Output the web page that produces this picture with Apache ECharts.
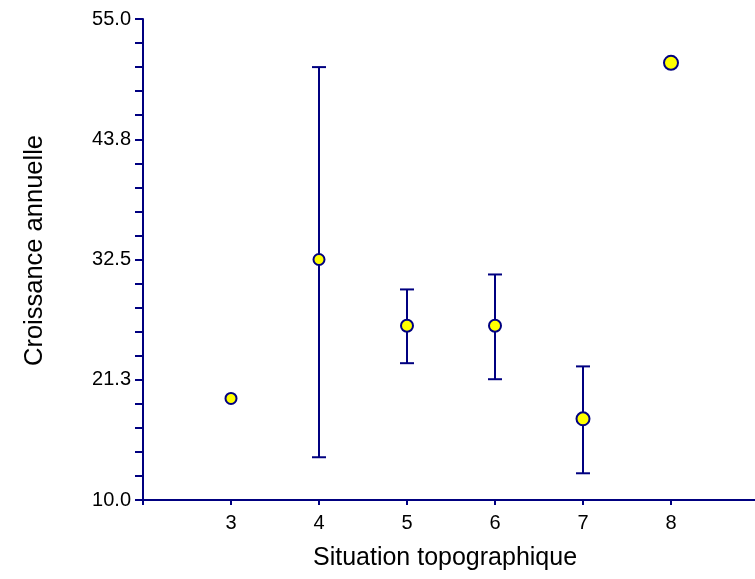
<!DOCTYPE html>
<html>
<head>
<meta charset="utf-8">
<script src="https://cdn.jsdelivr.net/npm/echarts@6/dist/echarts.min.js"></script>
<style>html,body{margin:0;padding:0;background:#fff}#c{width:755px;height:579px}</style>
</head>
<body>
<div id="c"></div>
<script>
var categories = [3, 4, 5, 6, 7, 8];
var means = [19.5, 32.5, 26.3, 26.3, 17.6, 50.9];
var lowerBars = [19.5, 14.0, 22.8, 21.3, 12.5, 50.9];
var upperBars = [19.5, 50.5, 29.7, 31.1, 22.5, 50.9];
var markerSizes = [11, 11, 12, 12, 13, 14];
var yTickLabels = ['10.0', '21.3', '32.5', '43.8', '55.0'];
var xTickLabels = ['3', '4', '5', '6', '7', '8'];

var navy = '#000080';
var chart = echarts.init(document.getElementById('c'));
var errData = categories.map(function (c, i) { return [c, lowerBars[i], upperBars[i]]; });
var ptData = categories.map(function (c, i) { return [c, means[i]]; });

chart.setOption({
  animation: false,
  grid: { left: 143, top: 19, width: 616, height: 481, outerBoundsMode: 'none', containLabel: false },
  xAxis: {
    type: 'value', min: 2, max: 9, interval: 1,
    name: 'Situation topographique', nameLocation: 'middle', nameGap: 46,
    nameTextStyle: { fontFamily: 'Liberation Sans', fontSize: 25, color: '#000', padding: [0, 12, 0, 0] },
    axisLine: { show: true, lineStyle: { color: navy, width: 2 } },
    axisTick: { show: true, length: 5, lineStyle: { color: navy, width: 2 } },
    axisLabel: {
      fontFamily: 'Liberation Sans', fontSize: 20, color: '#000', margin: 13,
      formatter: function (v) { var k = categories.indexOf(v); return k >= 0 ? xTickLabels[k] : ''; }
    },
    splitLine: { show: false }
  },
  yAxis: {
    type: 'value', min: 10, max: 55, interval: 11.25,
    name: 'Croissance annuelle', nameLocation: 'middle', nameGap: 95, nameRotate: 90,
    nameTextStyle: { fontFamily: 'Liberation Sans', fontSize: 25.5, color: '#000', padding: [0, 0, 0, 18] },
    axisLine: { show: true, lineStyle: { color: navy, width: 2 } },
    axisTick: { show: true, length: 8, lineStyle: { color: navy, width: 2 } },
    minorTick: { show: true, splitNumber: 5, length: 8, lineStyle: { color: navy, width: 2 } },
    axisLabel: {
      fontFamily: 'Liberation Sans', fontSize: 20, color: '#000', margin: 12,
      formatter: function (v) { return yTickLabels[Math.round((v - 10) / 11.25)]; }
    },
    splitLine: { show: false }
  },
  series: [
    {
      type: 'custom',
      data: errData,
      z: 2,
      renderItem: function (params, api) {
        var x = api.value(0);
        var lo = api.coord([x, api.value(1)]);
        var hi = api.coord([x, api.value(2)]);
        if (Math.abs(lo[1] - hi[1]) < 1) return { type: 'group', children: [] };
        var hw = 7;
        var st = { stroke: navy, lineWidth: 2 };
        return {
          type: 'group',
          children: [
            { type: 'line', shape: { x1: hi[0], y1: hi[1], x2: lo[0], y2: lo[1] }, style: st },
            { type: 'line', shape: { x1: hi[0] - hw, y1: hi[1], x2: hi[0] + hw, y2: hi[1] }, style: st },
            { type: 'line', shape: { x1: lo[0] - hw, y1: lo[1], x2: lo[0] + hw, y2: lo[1] }, style: st }
          ]
        };
      }
    },
    {
      type: 'scatter',
      data: ptData,
      z: 3,
      symbol: 'circle',
      symbolSize: function (v, p) { return markerSizes[p.dataIndex]; },
      itemStyle: { color: '#ffff00', borderColor: navy, borderWidth: 2, opacity: 1 }
    }
  ]
});
</script>
</body>
</html>
